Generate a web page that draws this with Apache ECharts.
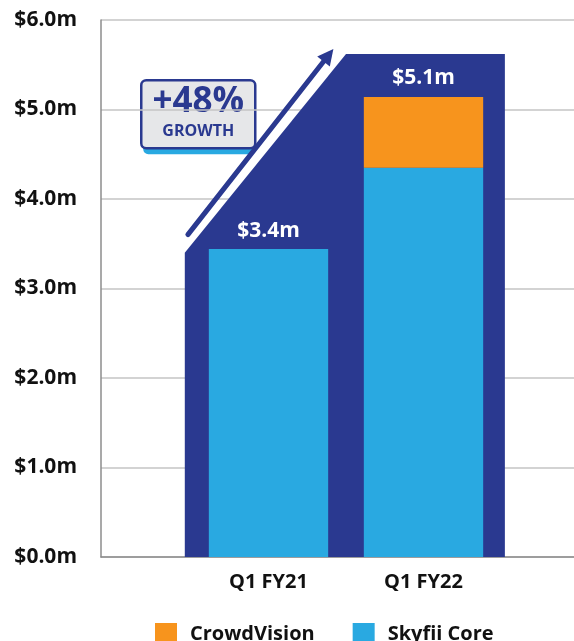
<!DOCTYPE html>
<html>
<head>
<meta charset="utf-8">
<script src="https://cdn.jsdelivr.net/npm/echarts@6/dist/echarts.min.js"></script>
<style>
  html, body { margin: 0; padding: 0; background: #fff; }
  #chart { width: 574px; height: 641px; }
</style>
</head>
<body>
<div id="chart"></div>
<script>
// data
const categories = ['Q1 FY21', 'Q1 FY22'];
const skyfiiCore = [3.44, 4.35];
const crowdVision = ['-', 0.79];
const growthBand = [3.4, 5.62]; // dark backdrop: left edge height, right edge height
const yTicks = [0, 1, 2, 3, 4, 5, 6];

const NAVY = '#2a3990';
const BLUE = '#29a9e1';
const ORANGE = '#f7941d';
const FONT = '"Open Sans", sans-serif';

const totals = skyfiiCore.map((v, i) => v + (crowdVision[i] === '-' ? 0 : crowdVision[i]));
const fmt = v => '$' + v.toFixed(1) + 'm';

const topLabel = {
  show: true,
  position: 'top',
  distance: 8,
  color: '#fff',
  fontFamily: FONT,
  fontWeight: 'bold',
  fontSize: 21,
  formatter: p => fmt(totals[p.dataIndex])
};

const coreData = skyfiiCore.map((v, i) => ({
  value: v,
  label: crowdVision[i] === '-' ? topLabel : { show: false }
}));
const cvData = crowdVision.map(v => ({
  value: v,
  label: v === '-' ? { show: false } : topLabel
}));

const chart = echarts.init(document.getElementById('chart'));

const option = {
  animation: false,
  grid: [
    { left: 101, right: 0, top: 20, bottom: 84 },
    { left: 191, right: 73, top: 20, bottom: 84 }
  ],
  xAxis: [
    {
      gridIndex: 0, type: 'value', min: 0, max: 1,
      axisLine: { show: true, lineStyle: { color: '#8c8c8c', width: 1.5 } },
      axisTick: { show: false }, axisLabel: { show: false }, splitLine: { show: false }
    },
    {
      gridIndex: 1, type: 'category', data: categories,
      axisLine: { show: false }, axisTick: { show: false },
      axisLabel: {
        margin: 15, color: '#111', fontFamily: FONT, fontWeight: 'bold', fontSize: 20
      }
    }
  ],
  yAxis: [
    {
      gridIndex: 0, type: 'value', min: yTicks[0], max: yTicks[yTicks.length - 1], interval: 1,
      axisLine: { show: true, lineStyle: { color: '#8c8c8c', width: 1.5 } },
      axisTick: { show: false },
      axisLabel: {
        margin: 24, color: '#111', fontFamily: FONT, fontWeight: 'bold', fontSize: 21,
        formatter: v => fmt(v)
      },
      splitLine: { lineStyle: { color: '#c4c4c4', width: 1.5 } }
    },
    {
      gridIndex: 1, type: 'value', min: yTicks[0], max: yTicks[yTicks.length - 1],
      show: false, splitLine: { show: false }
    }
  ],
  legend: {
    data: ['CrowdVision', 'Skyfii Core'],
    left: 150, top: 618,
    icon: 'rect', itemWidth: 22, itemHeight: 22, itemGap: 38,
    textStyle: { color: '#111', fontFamily: FONT, fontWeight: 'bold', fontSize: 20, padding: [0, 0, 0, 8] }
  },
  graphic: [
    {
      type: 'group', left: 140, top: 79, z: 10,
      children: [
        { type: 'rect', shape: { x: 2, y: 4, width: 112, height: 70, r: 5 }, style: { fill: BLUE } },
        { type: 'rect', shape: { x: 0, y: 0, width: 114, height: 68, r: 5 },
          style: { fill: '#e6e7e9', stroke: NAVY, lineWidth: 2.5 } },
        { type: 'text', x: 57, y: 22,
          style: { text: '+48%', fill: NAVY, font: 'bold 35px ' + FONT, align: 'center', verticalAlign: 'middle' } },
        { type: 'text', x: 57, y: 51,
          style: { text: 'GROWTH', fill: NAVY, font: 'bold 16px ' + FONT, align: 'center', verticalAlign: 'middle' } }
      ]
    }
  ],
  series: [
    {
      type: 'custom',
      xAxisIndex: 1, yAxisIndex: 1,
      z: 1, silent: true,
      data: [[0, growthBand[0]], [1, growthBand[1]]],
      renderItem: function (params, api) {
        if (params.dataIndex !== 0) return;
        const bw = api.size([1, 0])[0];
        const p0 = api.coord([0, growthBand[0]]);
        const p1 = api.coord([1, growthBand[1]]);
        const base = api.coord([0, 0])[1];
        const left = p0[0] - 0.54 * bw;
        const mid = p0[0] + 0.5 * bw;
        const right = p1[0] + 0.525 * bw;
        // arrow parallel to the slanted edge
        const ax = left, ay = p0[1], bx = mid, by = p1[1];
        const L = Math.hypot(bx - ax, by - ay);
        const dx = (bx - ax) / L, dy = (by - ay) / L;
        const nx = dy, ny = -dx;
        const s = [ax + dx * 16 + nx * 9, ay + dy * 16 + ny * 9];
        const t = [ax + dx * (L - 4) + nx * 13, ay + dy * (L - 4) + ny * 13];
        const el = Math.hypot(t[0] - s[0], t[1] - s[1]);
        const ex = (t[0] - s[0]) / el, ey = (t[1] - s[1]) / el;
        const hb = [t[0] - ex * 16, t[1] - ey * 16];
        return {
          type: 'group',
          children: [
            { type: 'polygon',
              shape: { points: [[left, base], [left, ay], [mid, by], [right, by], [right, base]] },
              style: { fill: NAVY } },
            { type: 'line',
              shape: { x1: s[0], y1: s[1], x2: hb[0] + ex * 2, y2: hb[1] + ey * 2 },
              style: { stroke: NAVY, lineWidth: 5, lineCap: 'round' } },
            { type: 'polygon',
              shape: { points: [t, [hb[0] + ey * 8, hb[1] - ex * 8], [hb[0] - ey * 8, hb[1] + ex * 8]] },
              style: { fill: NAVY } }
          ]
        };
      }
    },
    {
      name: 'Skyfii Core', type: 'bar', stack: 'total',
      xAxisIndex: 1, yAxisIndex: 1, z: 3,
      barWidth: '77%',
      itemStyle: { color: BLUE },
      data: coreData
    },
    {
      name: 'CrowdVision', type: 'bar', stack: 'total',
      xAxisIndex: 1, yAxisIndex: 1, z: 3,
      barWidth: '77%',
      itemStyle: { color: ORANGE },
      data: cvData
    }
  ]
};

chart.setOption(option);
</script>
</body>
</html>
